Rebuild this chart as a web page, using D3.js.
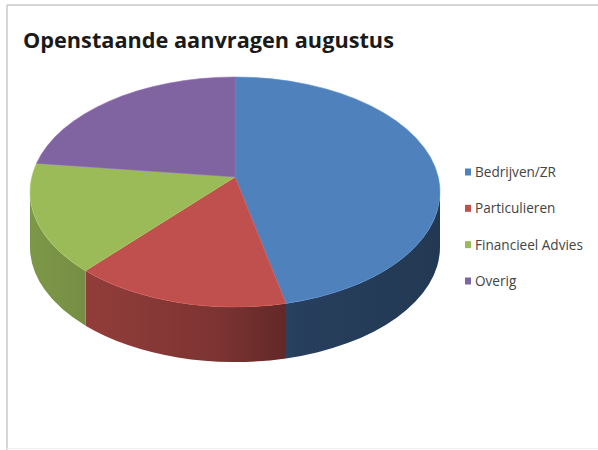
<!DOCTYPE html>
<html>
<head>
<meta charset="utf-8">
<script src="https://cdn.jsdelivr.net/npm/d3@7"></script>
<style>
  html, body { margin: 0; padding: 0; background: #fff; }
  svg { display: block; }
</style>
</head>
<body>
<svg id="chart"></svg>
<script>
// data (share of open requests)
const categories = ["Bedrijven/ZR", "Particulieren", "Financieel Advies", "Overig"];
const values = [46, 17, 16, 21];
const colors = ["#4F81BD", "#C0504D", "#9BBB59", "#8064A2"];
const title = "Openstaande aanvragen augustus";

const width = 598, height = 450;

// 3d pie geometry
const cx = 235, cy = 192, rx = 205, ry = 115, depth = 55;
const apex = {x: 235, y: 177}; // perspective puts the centre a bit higher

const svg = d3.select("#chart")
    .attr("width", width)
    .attr("height", height)
    .attr("font-family", "'Open Sans', sans-serif");

// frame (only the left and top edge show in the picture)
svg.append("line").attr("x1", 7).attr("y1", 5).attr("x2", width).attr("y2", 5)
  .attr("stroke", "#c9c9c9").attr("stroke-width", 1.5);
svg.append("line").attr("x1", 7).attr("y1", 5).attr("x2", 7).attr("y2", height)
  .attr("stroke", "#c9c9c9").attr("stroke-width", 1.5);
svg.append("line").attr("x1", 7).attr("y1", height - 1.5).attr("x2", width).attr("y2", height - 1.5)
  .attr("stroke", "#f0f0f0").attr("stroke-width", 1);

const pie = d3.pie().sort(null).value(d => d)(values);

function pt(a, dy) {
  return [cx + rx * Math.sin(a), cy - ry * Math.cos(a) + (dy || 0)];
}

// side gradients: lit from the left, darker to the right
const defs = svg.append("defs");
colors.forEach((c, i) => {
  const g = defs.append("linearGradient")
      .attr("id", "side" + i)
      .attr("gradientUnits", "userSpaceOnUse")
      .attr("x1", cx - rx).attr("x2", cx + rx)
      .attr("y1", 0).attr("y2", 0);
  g.append("stop").attr("offset", 0).attr("stop-color", d3.color(c).darker(0.6));
  g.append("stop").attr("offset", 0.45).attr("stop-color", d3.color(c).darker(1.2));
  g.append("stop").attr("offset", 0.65).attr("stop-color", d3.color(c).darker(2.0));
  g.append("stop").attr("offset", 1).attr("stop-color", d3.color(c).darker(2.3));
});

// sides, only the front half (pi/2 .. 3pi/2) can be seen
pie.forEach((d, i) => {
  const s0 = Math.max(d.startAngle, Math.PI / 2);
  const s1 = Math.min(d.endAngle, 3 * Math.PI / 2);
  if (s1 <= s0) return;
  const a = pt(s0), b = pt(s1), bb = pt(s1, depth), ab = pt(s0, depth);
  const large = (s1 - s0) > Math.PI ? 1 : 0;
  const p = `M${a}A${rx},${ry} 0 ${large} 1 ${b}L${bb}A${rx},${ry} 0 ${large} 0 ${ab}Z`;
  svg.append("path")
    .attr("d", p)
    .attr("fill", `url(#side${i})`);
});

// top faces
pie.forEach((d, i) => {
  const a = pt(d.startAngle), b = pt(d.endAngle);
  const large = (d.endAngle - d.startAngle) > Math.PI ? 1 : 0;
  const p = `M${apex.x},${apex.y}L${a}A${rx},${ry} 0 ${large} 1 ${b}Z`;
  svg.append("path")
    .attr("d", p)
    .attr("fill", colors[i])
    .attr("stroke", d3.color(colors[i]).brighter(0.3))
    .attr("stroke-width", 0.6);
});

// size a text so it spans a given pixel width, returns the size
function fitSize(sel, w) {
  const fs = parseFloat(sel.attr("font-size"));
  const len = sel.node().getComputedTextLength();
  return fs * w / len;
}

const t = svg.append("text")
    .attr("x", 23)
    .attr("y", 48)
    .attr("font-size", 22)
    .attr("font-weight", 700)
    .attr("fill", "#1a1a1a")
    .text(title);
t.attr("font-size", fitSize(t, 371).toFixed(2));

// legend
const legendY = d3.scalePoint().domain(categories).range([172, 281]);
const lg = svg.append("g").selectAll("g")
  .data(categories)
  .join("g")
    .attr("transform", d => `translate(465,${legendY(d)})`);

lg.append("rect")
    .attr("x", 0).attr("y", -3.5)
    .attr("width", 6).attr("height", 7)
    .attr("fill", (d, i) => colors[i]);

const lt = lg.append("text")
    .attr("x", 10)
    .attr("dy", "0.36em")
    .attr("font-size", 12)
    .attr("fill", "#444")
    .text(d => d);
// one size for all entries, taken from the longest label
const longest = lt.filter(d => d === "Financieel Advies");
lt.attr("font-size", fitSize(longest, 108).toFixed(2));
</script>
</body>
</html>
